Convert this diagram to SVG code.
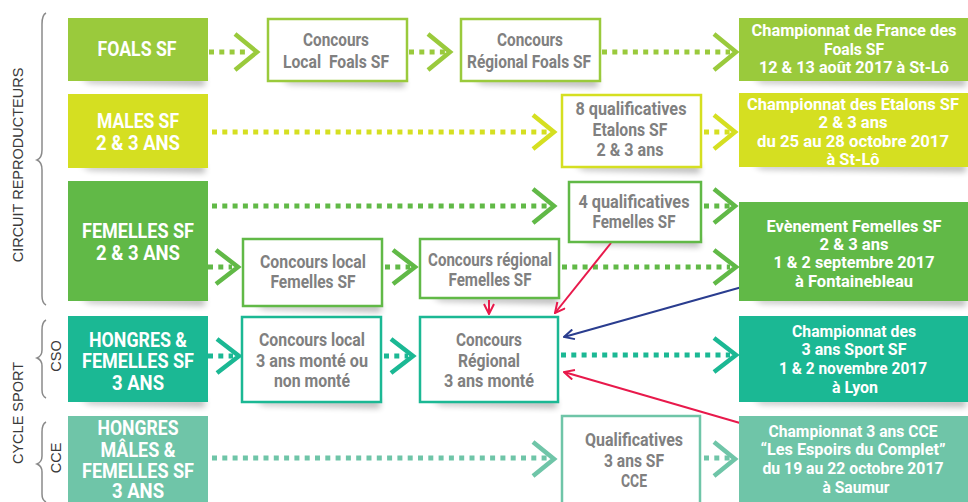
<svg xmlns="http://www.w3.org/2000/svg" width="968" height="502" viewBox="0 0 968 502">
<style>
.lbl{font-family:Roboto,"Liberation Sans",sans-serif;font-weight:bold;font-size:20px;fill:#fff;text-anchor:middle}
.rt{font-family:Roboto,"Liberation Sans",sans-serif;font-weight:bold;font-size:17px;fill:#fff;text-anchor:middle}
.gt{font-family:Roboto,"Liberation Sans",sans-serif;font-weight:bold;font-size:18px;fill:#808080;text-anchor:middle}
.side{font-family:"Liberation Sans",Arial,sans-serif;font-size:14.5px;fill:#3a3a3a;text-anchor:middle}
.br{fill:none;stroke:#8a8a8a;stroke-width:1.5}
.box{fill:#fff;stroke-width:2.5}
.dot{fill:none;stroke-width:5;stroke-dasharray:5 5.3}
.chev{fill:none;stroke-width:4.5;stroke-linecap:butt;stroke-linejoin:miter}
.sh{fill:#000;opacity:0.28;filter:url(#blur)}
.foals{fill:#9aca3c}.males{fill:#d5df21}.fem{fill:#61b947}.cso{fill:#1bb894}.cce{fill:#6fc5a8}
.sfoals{stroke:#9aca3c}.smales{stroke:#d5df21}.sfem{stroke:#61b947}.scso{stroke:#1bb894}.scce{stroke:#6fc5a8}
.red{stroke:#e8194b;stroke-width:2;fill:none}
.blue{stroke:#2a3d8f;stroke-width:2;fill:none}
</style>
<defs>
<filter id="blur" x="-10%" y="-100%" width="120%" height="300%"><feGaussianBlur stdDeviation="3"/></filter>
<marker id="ar" viewBox="0 0 12 12" refX="11" refY="6" markerWidth="12" markerHeight="12" markerUnits="userSpaceOnUse" orient="auto"><path d="M1,1 L11,6 L1,11" fill="none" stroke="#e8194b" stroke-width="2"/></marker>
<marker id="ab" viewBox="0 0 12 12" refX="11" refY="6" markerWidth="12" markerHeight="12" markerUnits="userSpaceOnUse" orient="auto"><path d="M1,1 L11,6 L1,11" fill="none" stroke="#2a3d8f" stroke-width="2"/></marker>
</defs>
<rect width="968" height="502" fill="#fff"/>

<g id="side-labels">
<path class="br" d="M46,13 Q42,15 42,24 L42,150 Q42,158 37,160 Q42,162 42,170 L42,296 Q42,303 46,305"/>
<path class="br" d="M46,320 Q42,322 42,330 L42,350 Q42,356 37,358 Q42,360 42,366 L42,390 Q42,396 46,398"/>
<path class="br" d="M46,422 Q42,424 42,432 L42,456 Q42,462 37,464 Q42,466 42,472 L42,494 Q42,500 46,502"/>
<text class="side" transform="translate(23,165) rotate(-90)">CIRCUIT REPRODUCTEURS</text>
<text class="side" transform="translate(23,413) rotate(-90)">CYCLE SPORT</text>
<text class="side" transform="translate(61,356) rotate(-90)">CSO</text>
<text class="side" transform="translate(61,458) rotate(-90)">CCE</text>
</g>

<g id="shadows">
<path class="sh" d="M80,78 L205,78 L205,86 L90,83 Z"/>
<path class="sh" d="M80,165 L205,165 L205,173 L90,170 Z"/>
<path class="sh" d="M80,298 L205,298 L205,306 L90,303 Z"/>
<path class="sh" d="M80,399 L205,399 L205,407 L90,404 Z"/>
<path class="sh" d="M280,79 L405,79 L405,87 L290,84 Z"/>
<path class="sh" d="M472,79 L598,79 L598,87 L482,84 Z"/>
<path class="sh" d="M752,78 L966,78 L966,86 L762,83 Z"/>
<path class="sh" d="M574,165 L700,165 L700,173 L584,170 Z"/>
<path class="sh" d="M752,164 L966,164 L966,172 L762,169 Z"/>
<path class="sh" d="M580,239 L700,239 L700,247 L590,244 Z"/>
<path class="sh" d="M254,304 L381,304 L381,312 L264,309 Z"/>
<path class="sh" d="M431,296 L558,296 L558,304 L441,301 Z"/>
<path class="sh" d="M752,298 L966,298 L966,306 L762,303 Z"/>
<path class="sh" d="M254,400 L380,400 L380,408 L264,405 Z"/>
<path class="sh" d="M431,400 L557,400 L557,408 L441,405 Z"/>
<path class="sh" d="M752,399 L966,399 L966,407 L762,404 Z"/>
</g>

<g id="connectors">
<line class="dot sfoals" x1="209" y1="52" x2="250" y2="52"/>
<polyline class="chev sfoals" points="235,34 257,52 235,70"/>
<line class="dot sfoals" x1="409" y1="52" x2="445" y2="52"/>
<polyline class="chev sfoals" points="428,34 450,52 428,70"/>
<line class="dot sfoals" x1="602" y1="52" x2="730" y2="52"/>
<polyline class="chev sfoals" points="714,34 736,52 714,70"/>
<line class="dot smales" x1="212" y1="132" x2="548" y2="132"/>
<polyline class="chev smales" points="533,115 554,132 533,149"/>
<line class="dot smales" x1="704" y1="132" x2="730" y2="132"/>
<polyline class="chev smales" points="714,115 735,132 714,149"/>
<line class="dot sfem" x1="212" y1="206" x2="548" y2="206"/>
<polyline class="chev sfem" points="533,189 554,206 533,223"/>
<line class="dot sfem" x1="704" y1="206" x2="730" y2="206"/>
<polyline class="chev sfem" points="714,189 735,206 714,223"/>
<line class="dot sfem" x1="208" y1="267" x2="232" y2="267"/>
<polyline class="chev sfem" points="216,250 238,267 216,284"/>
<line class="dot sfem" x1="385" y1="267" x2="410" y2="267"/>
<polyline class="chev sfem" points="393,250 415,267 393,284"/>
<line class="dot sfem" x1="562" y1="267" x2="730" y2="267"/>
<polyline class="chev sfem" points="714,250 736,267 714,284"/>
<line class="dot scso" x1="208" y1="356" x2="233" y2="356"/>
<polyline class="chev scso" points="217,339 239,356 217,373"/>
<line class="dot scso" x1="384" y1="356" x2="408" y2="356"/>
<polyline class="chev scso" points="391,339 413,356 391,373"/>
<line class="dot scso" x1="561" y1="355" x2="730" y2="355"/>
<polyline class="chev scso" points="714,338 736,355 714,372"/>
<line class="dot scce" x1="212" y1="458" x2="548" y2="458"/>
<polyline class="chev scce" points="533,442 554,459 533,476"/>
<line class="dot scce" x1="704" y1="458" x2="730" y2="458"/>
<polyline class="chev scce" points="714,442 735,459 714,476"/>
<line class="red" x1="489" y1="300" x2="489" y2="314" marker-end="url(#ar)"/>
<line class="red" x1="611" y1="243" x2="555" y2="313" marker-end="url(#ar)"/>
<line class="blue" x1="742" y1="287" x2="564" y2="337" marker-end="url(#ab)"/>
<line class="red" x1="740" y1="423" x2="564" y2="372" marker-end="url(#ar)"/>
</g>

<g id="foals-sf"><rect class="foals" x="68" y="18" width="140" height="63"/><text class="lbl" x="137" y="56" textLength="79" lengthAdjust="spacingAndGlyphs">FOALS SF</text></g>
<g id="males-sf"><rect class="males" x="68" y="94" width="140" height="74"/><text class="lbl" x="138" y="128" textLength="82" lengthAdjust="spacingAndGlyphs">MALES SF</text><text class="lbl" x="138" y="150" textLength="84" lengthAdjust="spacingAndGlyphs">2 &amp; 3 ANS</text></g>
<g id="femelles-sf"><rect class="fem" x="68" y="181" width="140" height="120"/><text class="lbl" x="138" y="238" textLength="112" lengthAdjust="spacingAndGlyphs">FEMELLES SF</text><text class="lbl" x="138" y="260" textLength="84" lengthAdjust="spacingAndGlyphs">2 &amp; 3 ANS</text></g>
<g id="hongres-cso"><rect class="cso" x="68" y="316" width="140" height="86"/><text class="lbl" x="138" y="347" textLength="98" lengthAdjust="spacingAndGlyphs">HONGRES &amp;</text><text class="lbl" x="138" y="368" textLength="112" lengthAdjust="spacingAndGlyphs">FEMELLES SF</text><text class="lbl" x="138" y="390" textLength="52" lengthAdjust="spacingAndGlyphs">3 ANS</text></g>
<g id="hongres-cce"><rect class="cce" x="68" y="416" width="140" height="90"/><text class="lbl" x="138" y="435" textLength="81" lengthAdjust="spacingAndGlyphs">HONGRES</text><text class="lbl" x="138" y="457" textLength="75" lengthAdjust="spacingAndGlyphs">MÂLES &amp;</text><text class="lbl" x="138" y="478" textLength="112" lengthAdjust="spacingAndGlyphs">FEMELLES SF</text><text class="lbl" x="138" y="498" textLength="52" lengthAdjust="spacingAndGlyphs">3 ANS</text></g>

<g id="concours-local-foals"><rect class="box sfoals" x="268" y="19" width="139" height="62"/><text class="gt" x="336" y="46" textLength="66" lengthAdjust="spacingAndGlyphs">Concours</text><text class="gt" x="336" y="68" textLength="106" lengthAdjust="spacingAndGlyphs" xml:space="preserve">Local  Foals SF</text></g>
<g id="concours-regional-foals"><rect class="box sfoals" x="461" y="19" width="139" height="62"/><text class="gt" x="530" y="46" textLength="66" lengthAdjust="spacingAndGlyphs">Concours</text><text class="gt" x="529" y="68" textLength="124" lengthAdjust="spacingAndGlyphs">Régional Foals SF</text></g>
<g id="qualif-etalons"><rect class="box smales" x="562" y="95" width="139" height="72"/><text class="gt" x="631" y="115" textLength="111" lengthAdjust="spacingAndGlyphs">8 qualificatives</text><text class="gt" x="630" y="136" textLength="75" lengthAdjust="spacingAndGlyphs">Etalons SF</text><text class="gt" x="630" y="156" textLength="67" lengthAdjust="spacingAndGlyphs">2 &amp; 3 ans</text></g>
<g id="qualif-femelles"><rect class="box sfem" x="569" y="182" width="132" height="60"/><text class="gt" x="634" y="208" textLength="111" lengthAdjust="spacingAndGlyphs">4 qualificatives</text><text class="gt" x="634" y="228" textLength="83" lengthAdjust="spacingAndGlyphs">Femelles SF</text></g>
<g id="concours-local-femelles"><rect class="box sfem" x="243" y="239" width="139" height="67"/><text class="gt" x="313" y="268" textLength="106" lengthAdjust="spacingAndGlyphs">Concours local</text><text class="gt" x="313" y="288" textLength="85" lengthAdjust="spacingAndGlyphs">Femelles SF</text></g>
<g id="concours-regional-femelles"><rect class="box sfem" x="420" y="239" width="139" height="59"/><text class="gt" x="490" y="266" textLength="124" lengthAdjust="spacingAndGlyphs">Concours régional</text><text class="gt" x="490" y="286" textLength="83" lengthAdjust="spacingAndGlyphs">Femelles SF</text></g>
<g id="concours-local-3ans"><rect class="box scso" x="242" y="317" width="139" height="85"/><text class="gt" x="312" y="346" textLength="106" lengthAdjust="spacingAndGlyphs">Concours local</text><text class="gt" x="312" y="367" textLength="112" lengthAdjust="spacingAndGlyphs">3 ans monté ou</text><text class="gt" x="312" y="387" textLength="76" lengthAdjust="spacingAndGlyphs">non monté</text></g>
<g id="concours-regional-3ans"><rect class="box scso" x="420" y="317" width="138" height="85"/><text class="gt" x="489" y="346" textLength="66" lengthAdjust="spacingAndGlyphs">Concours</text><text class="gt" x="489" y="367" textLength="62" lengthAdjust="spacingAndGlyphs">Régional</text><text class="gt" x="489" y="387" textLength="90" lengthAdjust="spacingAndGlyphs">3 ans monté</text></g>
<g id="qualif-cce"><rect class="box scce" x="562" y="416" width="138" height="92"/><text class="gt" x="634" y="446" textLength="98" lengthAdjust="spacingAndGlyphs">Qualificatives</text><text class="gt" x="634" y="467" textLength="60" lengthAdjust="spacingAndGlyphs">3 ans SF</text><text class="gt" x="634" y="487" textLength="26" lengthAdjust="spacingAndGlyphs">CCE</text></g>

<g id="champ-foals"><rect class="foals" x="739" y="18" width="229" height="63"/><text class="rt" x="854" y="36" textLength="205" lengthAdjust="spacingAndGlyphs">Championnat de France des</text><text class="rt" x="854" y="55" textLength="60" lengthAdjust="spacingAndGlyphs">Foals SF</text><text class="rt" x="854" y="73" textLength="190" lengthAdjust="spacingAndGlyphs">12 &amp; 13 août 2017 à St-Lô</text></g>
<g id="champ-etalons"><rect class="males" x="739" y="93" width="229" height="74"/><text class="rt" x="853" y="110" textLength="212" lengthAdjust="spacingAndGlyphs">Championnat des Etalons SF</text><text class="rt" x="853" y="128" textLength="69" lengthAdjust="spacingAndGlyphs">2 &amp; 3 ans</text><text class="rt" x="853" y="147" textLength="192" lengthAdjust="spacingAndGlyphs">du 25 au 28 octobre 2017</text><text class="rt" x="853" y="165" textLength="53" lengthAdjust="spacingAndGlyphs">à St-Lô</text></g>
<g id="evenement-femelles"><rect class="fem" x="739" y="202" width="229" height="99"/><text class="rt" x="854" y="232" textLength="175" lengthAdjust="spacingAndGlyphs">Evènement Femelles SF</text><text class="rt" x="854" y="250" textLength="69" lengthAdjust="spacingAndGlyphs">2 &amp; 3 ans</text><text class="rt" x="854" y="268" textLength="161" lengthAdjust="spacingAndGlyphs">1 &amp; 2 septembre 2017</text><text class="rt" x="854" y="287" textLength="118" lengthAdjust="spacingAndGlyphs">à Fontainebleau</text></g>
<g id="champ-sport"><rect class="cso" x="739" y="316" width="229" height="86"/><text class="rt" x="854" y="337" textLength="124" lengthAdjust="spacingAndGlyphs">Championnat des</text><text class="rt" x="854" y="355" textLength="105" lengthAdjust="spacingAndGlyphs">3 ans Sport SF</text><text class="rt" x="853" y="374" textLength="148" lengthAdjust="spacingAndGlyphs">1 &amp; 2 novembre 2017</text><text class="rt" x="855" y="393" textLength="46" lengthAdjust="spacingAndGlyphs">à Lyon</text></g>
<g id="champ-cce"><rect class="cce" x="739" y="416" width="229" height="90"/><text class="rt" x="853" y="437" textLength="169" lengthAdjust="spacingAndGlyphs">Championnat 3 ans CCE</text><text class="rt" x="853" y="455" textLength="185" lengthAdjust="spacingAndGlyphs">“Les Espoirs du Complet”</text><text class="rt" x="853" y="474" textLength="181" lengthAdjust="spacingAndGlyphs">du 19 au 22 octobre 2017</text><text class="rt" x="856" y="493" textLength="67" lengthAdjust="spacingAndGlyphs">à Saumur</text></g>
</svg>
